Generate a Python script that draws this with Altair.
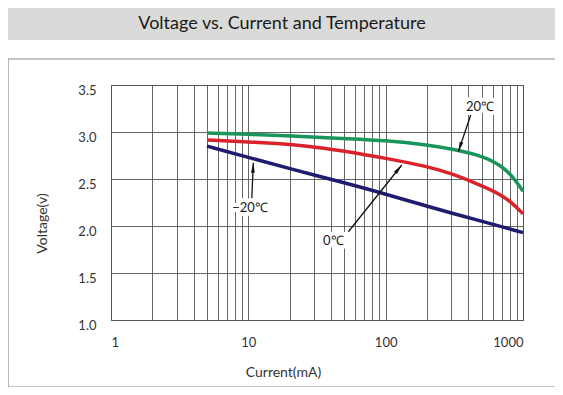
import math
import altair as alt
import pandas as pd

# ---- data ----
current_20 = [5, 10, 20, 50, 100, 200, 300, 500, 700, 850, 1000]
volt_20 = [2.99, 2.975, 2.96, 2.93, 2.91, 2.865, 2.82, 2.75, 2.64, 2.52, 2.37]
current_0 = [5, 10, 20, 30, 50, 100, 200, 300, 500, 700, 850, 1000]
volt_0 = [2.915, 2.895, 2.87, 2.84, 2.80, 2.72, 2.635, 2.56, 2.43, 2.33, 2.235, 2.13]
current_m20 = [5, 10, 20, 50, 100, 200, 500, 1000]
volt_m20 = [2.85, 2.73, 2.61, 2.46, 2.34, 2.21, 2.05, 1.93]

series_names = ["20℃", "0℃", "−20℃"]
series_colors = ["#17955a", "#d9222a", "#1f1b6e"]

ann_text = ["20℃", "0℃", "−20℃"]
ann_text_x = [487, 41.6, 10.29]
ann_text_v = [3.27, 1.844, 2.19]
ann_tail_x = [424, 53.5, 10.59]
ann_tail_v = [3.216, 1.939, 2.277]
ann_tip_x = [338, 131, 10.87]
ann_tip_v = [2.79, 2.649, 2.673]

x_grid = [1, 2, 3, 4, 5, 6, 7, 8, 9, 10, 20, 30, 40, 50, 60, 70, 80, 90,
          100, 200, 300, 400, 500, 600, 700, 800, 900, 1000]
x_labels = [1, 10, 100, 1000]
y_ticks = [1.0, 1.5, 2.0, 2.5, 3.0, 3.5]

title_text = "Voltage vs. Current and Temperature"

W, H = 412, 235
X_MIN, X_MAX = 1, 1000
Y_MIN, Y_MAX = 1.0, 3.5
FONT = "Lato"

# ---- tables ----
rows = []
for name, xs, vs in zip(series_names, [current_20, current_0, current_m20],
                        [volt_20, volt_0, volt_m20]):
    for c, v in zip(xs, vs):
        rows.append({"series": name, "current": c, "volt": v})
curves = pd.DataFrame(rows)


def to_px(c, v):
    px = W * (math.log10(c) - math.log10(X_MIN)) / (math.log10(X_MAX) - math.log10(X_MIN))
    py = H * (Y_MAX - v) / (Y_MAX - Y_MIN)
    return px, py


def to_data(px, py):
    c = 10 ** (math.log10(X_MIN) + px / W * (math.log10(X_MAX) - math.log10(X_MIN)))
    v = Y_MAX - py / H * (Y_MAX - Y_MIN)
    return c, v


ann_rows = []
for t, tx, tv, ax, av, bx, bv in zip(ann_text, ann_text_x, ann_text_v,
                                     ann_tail_x, ann_tail_v, ann_tip_x, ann_tip_v):
    p0 = to_px(ax, av)
    p1 = to_px(bx, bv)
    dx, dy = p1[0] - p0[0], p1[1] - p0[1]
    L = math.hypot(dx, dy)
    ux, uy = dx / L, dy / L
    hc = to_data(p1[0] - 5 * ux, p1[1] - 5 * uy)
    ang = math.degrees(math.atan2(dx, -dy)) % 360
    ann_rows.append({"text": t, "tx": tx, "tv": tv, "ax": ax, "av": av,
                     "bx": bx, "bv": bv, "hx": hc[0], "hv": hc[1], "ang": ang})
ann = pd.DataFrame(ann_rows)

one = pd.DataFrame({"k": [0]})

xscale = alt.Scale(type="log", domain=[X_MIN, X_MAX], nice=False)
yscale = alt.Scale(domain=[Y_MIN, Y_MAX], nice=False, zero=False)

x_axis = alt.Axis(values=x_grid,
                  labelExpr="indexof([1,10,100,1000], datum.value) >= 0 ? format(datum.value, 'd') : ''",
                  grid=True, gridColor="#555555", gridWidth=0.9, gridOpacity=1,
                  ticks=False, tickSize=0, domain=False,
                  labelFontSize=13, labelColor="#333", labelPadding=22,
                  labelBaseline="middle", labelFont=FONT,
                  title="Current(mA)", titleFontSize=14, titleFontWeight="normal",
                  titleColor="#333", titleFont=FONT, titleX=172, titleY=52,
                  titleBaseline="middle", titleAnchor="middle", titleAlign="center")
y_axis = alt.Axis(values=y_ticks, format=".1f",
                  grid=True, gridColor="#555555", gridWidth=0.9, gridOpacity=1,
                  ticks=False, tickSize=0, domain=False,
                  labelFontSize=13, labelColor="#333", labelPadding=15,
                  labelOffset=5, labelFont=FONT,
                  title="Voltage(v)", titleFontSize=14, titleFontWeight="normal",
                  titleColor="#333", titleFont=FONT, titleX=-69, titleY=138,
                  titleAngle=270, titleBaseline="middle", titleAlign="center")


def X(field):
    return alt.X(f"{field}:Q", scale=xscale, axis=x_axis)


def Y(field):
    return alt.Y(f"{field}:Q", scale=yscale, axis=y_axis)


banner = alt.Chart(one).mark_rect(fill="#dadad8").encode(
    x=alt.value(-103), x2=alt.value(444), y=alt.value(-77), y2=alt.value(-45))
banner_text = alt.Chart(one).mark_text(fontSize=18, font=FONT, color="#1a1a1a",
                                       align="center", baseline="middle").encode(
    x=alt.value(171), y=alt.value(-61), text=alt.value(title_text))
frame = alt.Chart(one).mark_rect(fill=None, stroke="#8a8a8a", strokeWidth=1.2).encode(
    x=alt.value(-103), x2=alt.value(446), y=alt.value(-26), y2=alt.value(302))

lines = alt.Chart(curves).mark_line(strokeWidth=3.5, interpolate="basis").encode(
    x=X("current"),
    y=Y("volt"),
    color=alt.Color("series:N", scale=alt.Scale(domain=series_names, range=series_colors),
                    legend=None),
)

arrows = alt.Chart(ann).mark_rule(color="#111", strokeWidth=1.3).encode(
    x=X("ax"), y=Y("av"), x2="bx:Q", y2="bv:Q")
halo = alt.Chart(ann).mark_text(fontSize=13, font=FONT, stroke="white", strokeWidth=8,
                                strokeJoin="round", color="white").encode(
    x=X("tx"), y=Y("tv"), text="text:N")
labels = alt.Chart(ann).mark_text(fontSize=13, font=FONT, color="#1a1a1a").encode(
    x=X("tx"), y=Y("tv"), text="text:N")
heads = alt.Chart(ann).mark_point(shape="M0,-1L0.38,1L-0.38,1Z", filled=True,
                                  color="#111", size=100, opacity=1).encode(
    x=X("hx"), y=Y("hv"),
    angle=alt.Angle("ang:Q", scale=None))

chart = alt.layer(banner, banner_text, frame, lines, arrows, halo, labels,
                  heads).properties(
    width=W, height=H,
    autosize=alt.AutoSizeParams(type="none"),
    padding={"left": 103, "top": 77, "right": 32, "bottom": 67},
).configure(font=FONT).configure_view(stroke="#4a4a4a", strokeWidth=1)

chart.save("out.html", embed_options={"renderer": "svg", "actions": False})
